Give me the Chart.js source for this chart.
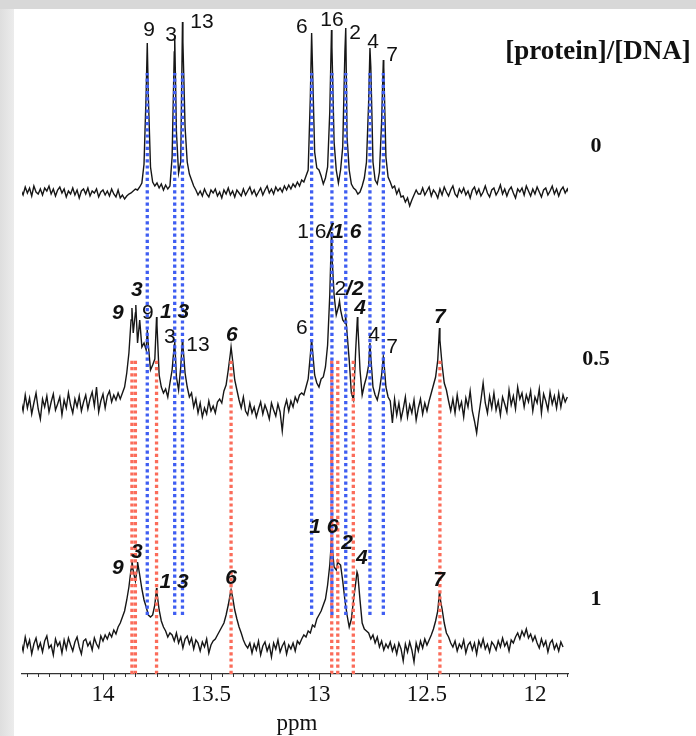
<!DOCTYPE html>
<html lang="en">
<head>
  <meta charset="UTF-8" />
  <title>Imino proton spectra</title>
  <style>
    body {
      margin: 0;
      background: #ffffff;
      width: 696px;
      height: 736px;
      position: relative;
      overflow: hidden;
    }

    .frame-top {
      position: absolute;
      left: 0;
      top: 0;
      width: 696px;
      height: 9px;
      background: #d8d8d8;
    }

    .frame-left {
      position: absolute;
      left: 0;
      top: 9px;
      width: 14px;
      height: 727px;
      background: linear-gradient(90deg, #dedede, #ececec);
    }

    #nmr {
      position: absolute;
      left: 0;
      top: 0;
    }
  </style>
</head>
<body>
  <div class="frame-top"></div>
  <div class="frame-left"></div>
  <canvas id="nmr" width="696" height="736"></canvas>

  <script src="https://cdn.jsdelivr.net/npm/chart.js"></script>
  <script>
    // ppm grid shared by the three spectra
    const ppmStart = 14.38;
    const ppmStep = 0.01;

    const ratios = ['0', '0.5', '1'];

    // [protein]/[DNA] = 0
    const trace0 = [
      2, -3, 5, -1, 4, -4, 6, 0, -2, 3,
      -3, 4, 1, 6, -2, 3, -4, 2, 5, -1,
      3, -5, 1, -2, 4, -3, 2, -6, 1, 3,
      -2, 4, -4, 1, -1, 3, -5, 0, 2, -3,
      1, -4, 3, -2, -5, 2, -6, -3, -7, -4,
      -2, -1, 1, 3, 2, 5, 9, 28, 100, 95,
      25, 10, 6, 9, 4, 8, 2, 7, 3, 6,
      35, 140, 60, 19, 30, 150, 65, 30, 18, 12,
      6, 2, -3, 1, -4, 3, -2, -5, 2, -1,
      3, -4, 0, -6, 2, -2, 4, -3, 1, -5,
      2, -1, -4, 3, -3, 1, 5, -2, 2, -4,
      0, 4, -3, 2, 6, -1, 3, -2, 5, 1,
      4, 0, 6, 2, 7, 3, 8, 5, 10, 6,
      12, 10, 16, 22, 95, 125, 40, 24, 22, 16,
      8, 14, 25, 80, 145, 50, 22, 9, 22, 45,
      140, 55, 22, 8, 4, 2, -2, 0, 6, 14,
      30, 90, 125, 30, 12, 8, 20, 70, 125, 35,
      15, 10, 4, 6, -2, 3, -5, -4, -10, -6,
      -14, -8, -3, 2, -2, -2, 4, -3, 1, 5,
      -4, 2, -1, -6, 3, -3, 5, 0, -4, 2,
      6, -2, -5, 3, -1, 4, -3, 1, -6, 2,
      5, -2, 3, -4, 0, 6, -1, -5, 2, 4,
      -3, 1, 7, -2, 3, -4, 2, 5, -1, -6,
      3, 0, 4, -3, 6, 1, -4, 3, -2, 5,
      0, -5, 2, 4, -3, 1, 6, -2, 3, -4,
      2, 5, -1, 3, -3
    ];
    const peaks0Ppm = [13.795, 13.668, 13.632, 13.034, 12.942, 12.876, 12.764, 12.702];
    const peaks0Top = [149, 157, 170, 159, 162, 164, 144, 132];

    // [protein]/[DNA] = 0.5
    const trace05 = [
      4, -6, 10, -3, 7, -9, 2, 12, -4, -14,
      6, -2, 9, -7, 3, 11, -5, 1, 8, -10,
      5, -3, 12, 0, -8, 6, -2, 9, -6, 3,
      10, -4, 6, 13, -1, 18, -7, 4, 11, -3,
      9, 14, 3, 10, 5, 12, 6, 12, 18, 32,
      52, 85, 72, 92, 62, 85, 58, 62, 55, 60,
      35, 40, 46, 80, 30, 18, 12, 16, 8, 22,
      35, 60, 28, 15, 38, 60, 32, 18, 8, 12,
      -2, 6, -8, 2, -12, -3, -9, 4, -6, -1,
      -8, 3, 6, 2, 14, 20, 35, 52, 45, 25,
      15, 5, -3, 8, -6, -10, 2, -8, -2, -12,
      -4, 3, -9, 0, -6, -14, 2, -5, -11, 1,
      -7, -26, -3, 5, -6, 4, -2, 8, 3, 10,
      12, 10, 18, 26, 50, 55, 30, 22, 18, 26,
      28, 38, 60, 110, 150, 110, 90, 98, 95, 85,
      82, 72, 45, 12, 5, 55, 80, 35, 10, 20,
      28, 40, 48, 18, 10, 5, 15, 30, 45, 18,
      8, 4, -18, 6, -10, 2, -14, -4, 8, -12,
      0, -8, 5, -15, -3, 6, -9, 2, -6, 4,
      12, 20, 28, 45, 65, 40, 22, 15, 4, -6,
      6, -8, 10, -4, 3, -12, 7, -2, 14, -6,
      -16, -28, -10, 5, 22, 2, -8, 9, -3, 12,
      -5, 4, -10, 8, 1, -7, 15, 0, 9, -4,
      18, 6, 12, -2, 10, 3, 14, -6, 8, 2,
      16, -8, 11, 4, -5, 13, 1, 9, -3, 12,
      -2, 10, 3, 8
    ];
    const peaks05Ppm = [13.866, 13.848, 13.795, 13.752, 13.668, 13.632, 13.407, 13.034,
                        12.942, 12.905, 12.876, 12.822, 12.764, 12.702, 12.442];
    const peaks05Top = [97, 100, 75, 88, 64, 66, 58, 66, 173, 104, 88, 88, 62, 48, 77];

    // [protein]/[DNA] = 1
    const trace1 = [
      3, -6, 8, -2, 5, -9, 1, 7, -4, 2,
      -7, 4, 9, -3, 0, -10, 6, -1, 3, -8,
      5, -4, 7, 0, -6, 3, 8, -2, -9, 4,
      6, -1, 3, -5, 7, 1, -3, 9, 4, 10,
      6, 12, 8, 15, 11, 18, 22, 28, 34, 45,
      58, 76, 74, 64, 78, 70, 56, 45, 38, 30,
      28, 30, 40, 52, 35, 24, 18, 14, 8, 12,
      10, 4, 12, 2, 8, -3, 6, 9, 1, 7,
      -4, 5, 2, -6, 3, -2, 6, -8, 0, 4,
      6, 10, 14, 18, 22, 30, 40, 52, 48, 35,
      26, 18, 12, 5, 0, -3, 2, -8, 1, -5,
      4, -10, -1, 3, -6, 0, -12, 2, -4, 5,
      -7, -1, 3, -9, 0, -4, 2, -6, 4, 1,
      6, 10, 8, 14, 12, 20, 18, 26, 30, 34,
      40, 46, 60, 80, 100, 78, 75, 82, 80, 64,
      45, 30, 18, 26, 45, 62, 70, 45, 22, 16,
      14, 12, 6, 10, 2, 8, -2, 4, -5, 1,
      -3, 3, -6, 0, -9, 2, -4, -16, 1, -7,
      3, -5, -17, 2, -6, 4, -3, 6, 0, 5,
      10, 16, 24, 34, 48, 36, 22, 12, 8, 2,
      -2, 4, -6, 1, -3, 5, -8, 0, 3, -5,
      2, -9, 4, -2, 6, -4, 1, -7, 3, 0,
      -5, 4, -2, 7, -1, 3, -6, 5, 2, 8,
      12, 6, 14, 9, 16, 7, 11, 4, 9, 2,
      -3, 6, -1, 4, -7, 2, 5, -4, 1, -6,
      3, -2
    ];
    const peaks1Ppm = [13.866, 13.84, 13.752, 13.407, 12.942, 12.913, 12.824, 12.442];
    const peaks1Top = [85, 83, 57, 55, 105, 84, 73, 53];

    // assignment guides: free DNA (blue) and complex (red)
    const freePpm = [13.795, 13.668, 13.632, 13.034, 12.940, 12.876, 12.764, 12.702];
    const boundPpm = [13.866, 13.850, 13.752, 13.407, 12.941, 12.913, 12.841, 12.440];

    // peak labels: text, ppm, height, style (n = plain, b = bold italic, nb = plain/bold italic)
    const labels0 = [
      ['9', 13.787, 644, 'n'], ['3', 13.685, 639, 'n'], ['13', 13.542, 652, 'n'],
      ['6', 13.079, 647, 'n'], ['16', 12.94, 654, 'n'], ['2', 12.833, 641, 'n'],
      ['4', 12.75, 632, 'n'], ['7', 12.662, 619, 'n']
    ];
    const labels05 = [
      ['9', 13.931, 361, 'b'], ['3', 13.843, 384, 'b'], ['9', 13.792, 361, 'n'],
      ['1 3', 13.669, 362, 'b'], ['3', 13.69, 337, 'n'], ['13', 13.56, 329, 'n'],
      ['6', 13.403, 339, 'b'], ['6', 13.079, 346, 'n'], ['1 6/1 6', 12.952, 442, 'nb'],
      ['2/2', 12.861, 385, 'nb'], ['4', 12.81, 366, 'b'], ['4', 12.745, 339, 'n'],
      ['7', 12.662, 327, 'n'], ['7', 12.44, 357, 'b']
    ];
    const labels1 = [
      ['9', 13.931, 106, 'b'], ['3', 13.843, 122, 'b'], ['1 3', 13.671, 92, 'b'],
      ['6', 13.407, 96, 'b'], ['1 6', 12.977, 147, 'b'], ['2', 12.87, 131, 'b'],
      ['4', 12.801, 116, 'b'], ['7', 12.444, 94, 'b']
    ];

    const axisTicks = [12, 12.5, 13, 13.5, 14];

    // vertical placement of each spectrum (y units are pixels above the ppm axis)
    const baselines = [482, 269, 29];
    const freeSpan = [59, 601];
    const boundSpan = [0, 316];

    const FONT_SANS = '"Liberation Sans", Arial, sans-serif';
    const FONT_SERIF = '"Liberation Serif", "Times New Roman", serif';

    function spectrum(values, peakPpm, peakTop, base) {
      const pts = values.map((v, i) => ({ x: +(ppmStart - i * ppmStep).toFixed(3), y: base + v }));
      peakPpm.forEach((p, k) => pts.push({ x: p, y: base + peakTop[k] }));
      pts.sort((a, b) => b.x - a.x);
      return pts;
    }

    function guide(p, span, color) {
      return {
        data: [{ x: p, y: span[0] }, { x: p, y: span[1] }],
        borderColor: color,
        borderWidth: 3.3,
        borderDash: [3.2, 3],
        borderCapStyle: 'butt',
        pointRadius: 0,
        order: 0
      };
    }

    function trace(points) {
      return {
        data: points,
        borderColor: '#161616',
        borderWidth: 1.4,
        pointRadius: 0,
        tension: 0,
        order: 1
      };
    }

    function drawLabel(ctx, text, cx, cy, style) {
      const plain = '21px ' + FONT_SANS;
      const bold = 'italic bold 21px ' + FONT_SANS;
      let parts;
      if (style === 'nb') {
        const cut = text.indexOf('/');
        parts = [[text.slice(0, cut), plain], [text.slice(cut), bold]];
      } else {
        parts = [[text, style === 'b' ? bold : plain]];
      }
      let total = 0;
      parts.forEach(([t, f]) => { ctx.font = f; total += ctx.measureText(t).width; });
      let x = cx - total / 2;
      ctx.textAlign = 'left';
      parts.forEach(([t, f]) => {
        ctx.font = f;
        ctx.fillText(t, x, cy);
        x += ctx.measureText(t).width;
      });
    }

    const decor = {
      id: 'decor',
      afterDatasetsDraw(chart) {
        const { ctx, chartArea } = chart;
        const xs = chart.scales.x;
        const ys = chart.scales.y;
        ctx.save();
        ctx.fillStyle = '#111';
        ctx.textBaseline = 'middle';

        [labels0, labels05, labels1].forEach(list => {
          list.forEach(([t, p, v, s]) => drawLabel(ctx, t, xs.getPixelForValue(p), ys.getPixelForValue(v), s));
        });

        // titration ratios on the right
        const rx = chartArea.right + 28;
        ctx.textAlign = 'center';
        ctx.font = 'bold 27px ' + FONT_SERIF;
        ctx.fillText('[protein]/[DNA]', rx + 2, 52);
        ctx.font = 'bold 22px ' + FONT_SERIF;
        ratios.forEach((r, k) => ctx.fillText(r, rx, ys.getPixelForValue(baselines[k] + 46)));
        ctx.restore();
      },
      afterDraw(chart) {
        const { ctx, chartArea } = chart;
        const xs = chart.scales.x;
        const yAxis = chartArea.bottom;
        ctx.save();
        ctx.strokeStyle = '#333';
        ctx.lineWidth = 1;
        // minor ticks every 0.05 ppm, longer ones on the labelled values
        for (let k = 0; k <= 50; k++) {
          const v = 11.85 + k * 0.05;
          if (v > xs.max) break;
          const major = Math.abs(v * 2 - Math.round(v * 2)) < 1e-6;
          const px = Math.round(xs.getPixelForValue(v)) + 0.5;
          ctx.beginPath();
          ctx.moveTo(px, yAxis - 1);
          ctx.lineTo(px, yAxis + (major ? 6 : 3));
          ctx.stroke();
        }
        ctx.fillStyle = '#111';
        ctx.font = '23px ' + FONT_SERIF;
        ctx.textAlign = 'center';
        ctx.textBaseline = 'middle';
        ctx.fillText('ppm', (chartArea.left + chartArea.right) / 2 + 2, 724);
        ctx.restore();
      }
    };

    const datasets = [
      ...freePpm.map(p => guide(p, freeSpan, '#3f5ef2')),
      ...boundPpm.map(p => guide(p, boundSpan, '#fb6c5a')),
      trace(spectrum(trace0, peaks0Ppm, peaks0Top, baselines[0])),
      trace(spectrum(trace05, peaks05Ppm, peaks05Top, baselines[1])),
      trace(spectrum(trace1, peaks1Ppm, peaks1Top, baselines[2]))
    ];

    new Chart(document.getElementById('nmr').getContext('2d'), {
      type: 'line',
      data: { datasets: datasets },
      options: {
        responsive: false,
        animation: false,
        layout: { padding: { left: 22, right: 128, top: 10, bottom: 0 } },
        plugins: {
          legend: { display: false },
          tooltip: { enabled: false }
        },
        scales: {
          x: {
            type: 'linear',
            reverse: true,
            min: 11.847,
            max: 14.375,
            afterBuildTicks: s => { s.ticks = axisTicks.map(v => ({ value: v })); },
            afterFit: s => { s.height = 62; },
            grid: { display: true, drawOnChartArea: false, drawTicks: false },
            border: { display: true, color: '#333', width: 1.3 },
            ticks: {
              padding: 7,
              maxRotation: 0,
              color: '#111',
              font: { family: FONT_SERIF, size: 23 },
              callback: v => String(v)
            }
          },
          y: { display: false, min: 0, max: 664 }
        }
      },
      plugins: [decor]
    });
  </script>
</body>
</html>
